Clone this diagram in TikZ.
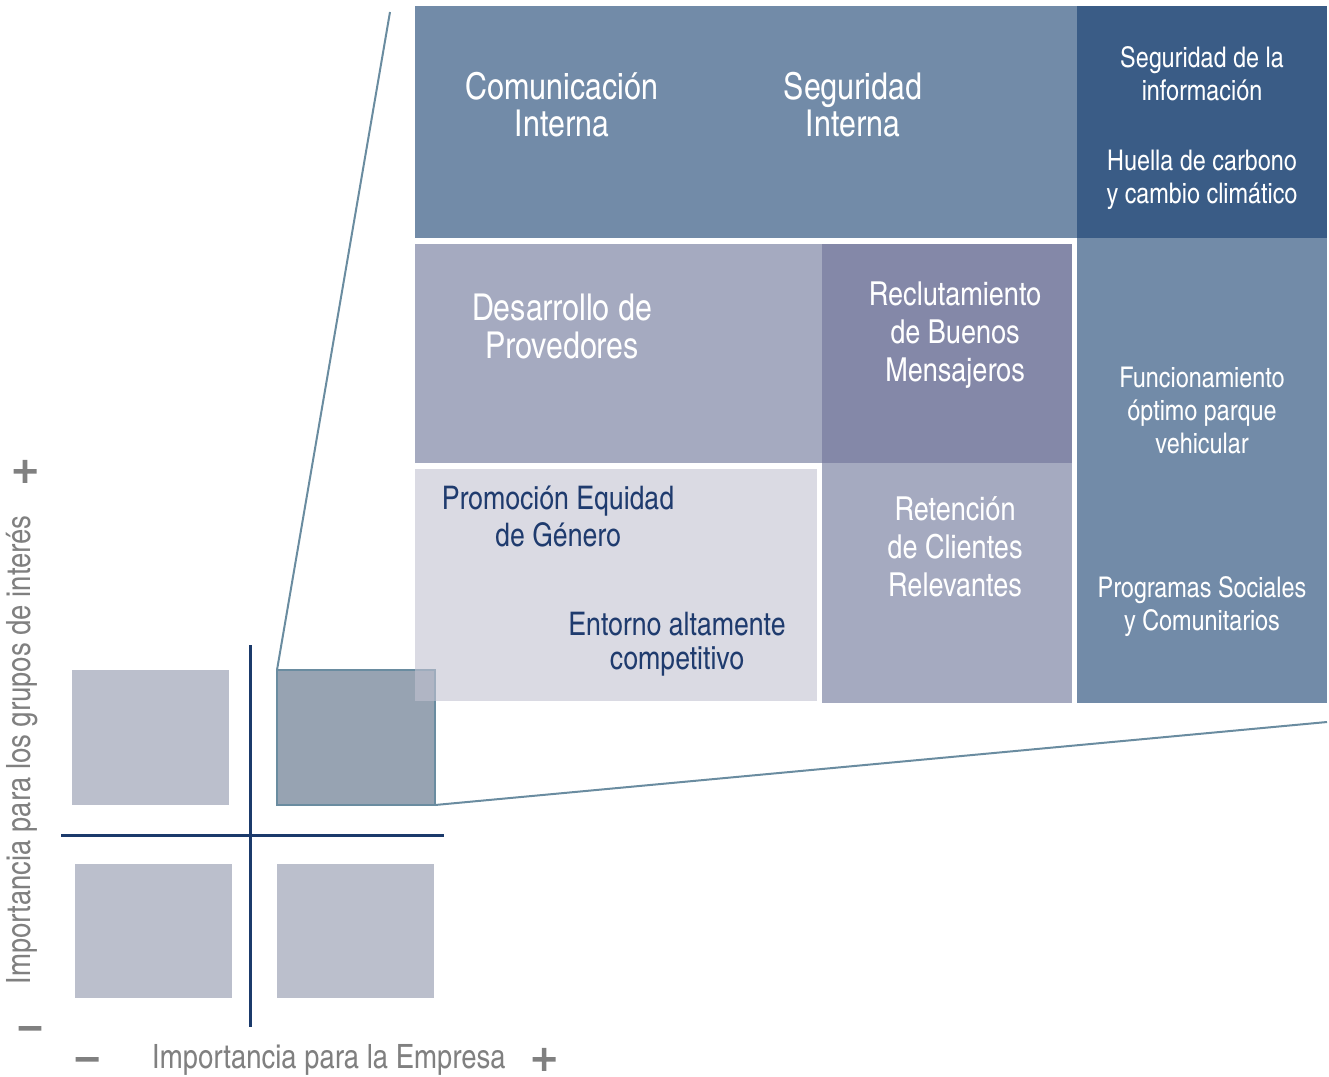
\documentclass[tikz,border=0pt]{standalone}
\usepackage{fontspec}
\setmainfont{TeX Gyre Heros Cn}
\newfontfamily\symfont{DejaVu Sans}[FakeBold=5]
\definecolor{bandblue}{RGB}{114,139,168}
\definecolor{darkblue}{RGB}{58,92,134}
\definecolor{midgray}{RGB}{165,170,192}
\definecolor{recgray}{RGB}{132,136,168}
\definecolor{promfill}{RGB}{193,194,209}
\definecolor{quadgray}{RGB}{187,191,204}
\definecolor{hlfill}{RGB}{151,163,178}
\definecolor{hlborder}{RGB}{106,140,160}
\definecolor{axisnavy}{RGB}{27,58,107}
\definecolor{navytext}{RGB}{31,59,110}
\definecolor{axisgray}{RGB}{128,128,128}
\begin{document}
\begin{tikzpicture}[x=1pt,y=-1pt,
  cell/.style={draw=none, inner sep=0pt, outer sep=0pt, anchor=north west},
  quad/.style={cell, fill=quadgray},
  axisline/.style={draw=axisnavy, line width=3pt},
  zoomline/.style={draw=hlborder, line width=2pt},
  lbl/.style={align=center, text=white, inner sep=0pt, font=\fontsize{37}{37}\selectfont},
  midlbl/.style={lbl, font=\fontsize{33}{38}\selectfont},
  smalllbl/.style={lbl, font=\fontsize{28.5}{33}\selectfont},
  navylbl/.style={lbl, text=navytext, font=\fontsize{32.5}{37}\selectfont},
  axislbl/.style={text=axisgray, inner sep=0pt, font=\fontsize{33.5}{36}\selectfont},
  sign/.style={text=axisgray, inner sep=0pt, text height=14pt, text depth=0pt,
               font=\symfont\fontsize{34}{34}\selectfont}]
\useasboundingbox (0,0) rectangle (1329,1076);

% quadrant squares of the small matrix
\node[quad, minimum width=157, minimum height=135] (qtl) at (72,670) {};
\node[quad, minimum width=157, minimum height=134] (qbl) at (75,864) {};
\node[quad, minimum width=157, minimum height=134] (qbr) at (277,864) {};
\node[cell, fill=hlfill, draw=hlborder, line width=2pt,
      minimum width=158, minimum height=135] (hl) at (277,670) {};

% axes
\coordinate (vtop) at (250,645);
\coordinate (vbot) at (250,1027);
\coordinate (hleft) at (61,835);
\coordinate (hright) at (444,835);
\draw[axisline] (vtop) -- (vbot);
\draw[axisline] (hleft) -- (hright);

% zoom connectors from the highlighted quadrant to the enlarged panel
\coordinate (ztop) at (390,12);
\coordinate (zbot) at (1327,722);
\draw[zoomline] (hl.north west) -- (ztop);
\draw[zoomline] (hl.south east) -- (zbot);

% enlarged panel
\node[cell, fill=bandblue, minimum width=662, minimum height=232] (band) at (415,6) {};
\node[cell, fill=darkblue, minimum width=250, minimum height=232] (dark) at (1077,6) {};
\node[cell, fill=bandblue, minimum width=250, minimum height=465] (rcol) at (1077,238) {};
\node[cell, fill=midgray, minimum width=407, minimum height=219] (desa) at (415,244) {};
\node[cell, fill=recgray, minimum width=250, minimum height=219] (recl) at (822,244) {};
\node[cell, fill=midgray, minimum width=250, minimum height=240] (rete) at (822,463) {};
\node[cell, fill=promfill, fill opacity=0.6, minimum width=402, minimum height=232] (prom) at (415,469) {};

% panel labels
\node[lbl] (tcom) at (562,105) {Comunicación\\Interna};
\node[lbl] (tseg) at (853,105) {Seguridad\\Interna};
\node[smalllbl] (tinf) at (1202,74) {Seguridad de la\\información};
\node[smalllbl] (thue) at (1202,180) {Huella de carbono\\y cambio climático};
\node[lbl, font=\fontsize{37}{38}\selectfont] (tdes) at (562,326) {Desarrollo de\\Provedores};
\node[midlbl] (trec) at (955,335) {Reclutamiento\\de Buenos\\Mensajeros};
\node[smalllbl] (tfun) at (1202,410) {Funcionamiento\\óptimo parque\\vehicular};
\node[navylbl] (tpro) at (558,517) {Promoción Equidad\\de Género};
\node[midlbl] (tret) at (955,547) {Retención\\de Clientes\\Relevantes};
\node[smalllbl] (tprg) at (1202,607) {Programas Sociales\\y Comunitarios};
\node[navylbl, font=\fontsize{32.5}{34}\selectfont] (tent) at (677,644) {Entorno altamente\\competitivo};

% axis titles and signs
\node[axislbl, rotate=90] (ylab) at (22,750) {Importancia para los grupos de interés};
\node[axislbl, anchor=west] (xlab) at (152,1060) {Importancia para la Empresa};
\node[sign] (yplus) at (25,475) {+};
\node[sign] (yminus) at (30,1032) {−};
\node[sign] (xminus) at (87,1063) {−};
\node[sign] (xplus) at (544,1063) {+};
\end{tikzpicture}
\end{document}
